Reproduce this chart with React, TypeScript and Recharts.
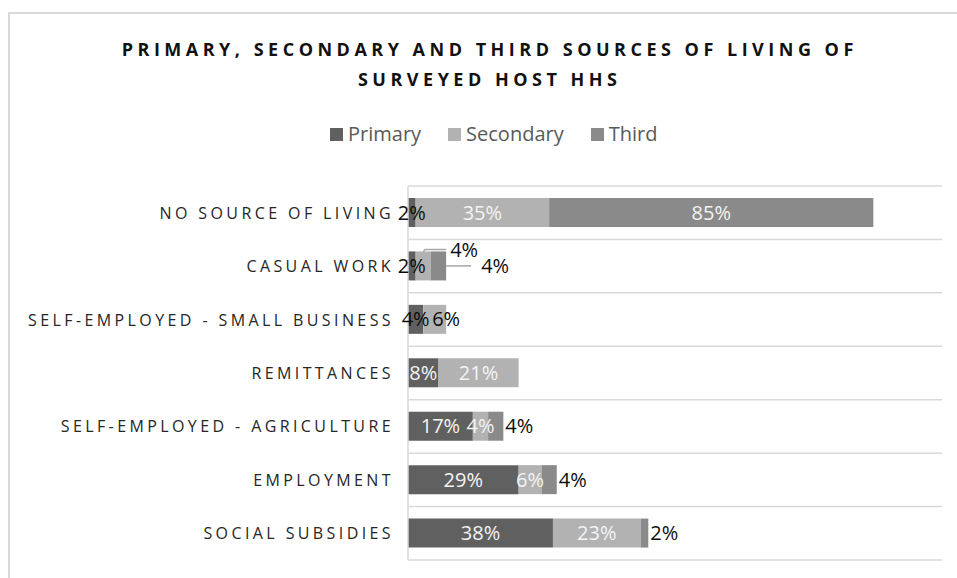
import React from 'react';
import { BarChart, Bar, XAxis, YAxis, CartesianGrid, LabelList } from 'recharts';

const categories = [
  'NO SOURCE OF LIVING',
  'CASUAL WORK',
  'SELF-EMPLOYED - SMALL BUSINESS',
  'REMITTANCES',
  'SELF-EMPLOYED - AGRICULTURE',
  'EMPLOYMENT',
  'SOCIAL SUBSIDIES',
];
const primary = [2, 2, 4, 8, 17, 29, 38];
const secondary = [35, 4, 6, 21, 4, 6, 23];
const third = [85, 4, 0, 0, 4, 4, 2];

const seriesKeys = ['primary', 'secondary', 'third'];
const seriesNames = ['Primary', 'Secondary', 'Third'];
const seriesColors = ['#606060', '#b2b2b2', '#8a8a8a'];
const titleLines = ['PRIMARY, SECONDARY AND THIRD SOURCES OF LIVING OF', 'SURVEYED HOST HHS'];
const axisMax = 140;

const data = categories.map((c, i) => ({
  category: c,
  primary: primary[i],
  secondary: secondary[i],
  third: third[i],
}));

const FONT = '"Open Sans", "DejaVu Sans", sans-serif';
const WHITE = '#f4f4f4';
const DARK = '#0d0d0d';
const LEADER = '#a6a6a6';
const GRID = '#d9d9d9';
const LABEL_SIZE = 20;

const fmt = (v: number) => `${Math.round(v)}%`;

function box(props: any) {
  const vb = props.viewBox && typeof props.viewBox.x === 'number' ? props.viewBox : props;
  return { x: Number(vb.x), y: Number(vb.y), w: Number(vb.width), h: Number(vb.height) };
}

// Find the data row of a label robustly (zero-width bars may be skipped in the label list)
function rowIndex(props: any): number {
  const p = props.payload;
  if (p && typeof p.category === 'string') return categories.indexOf(p.category);
  if (typeof props.value === 'string' && categories.indexOf(props.value) >= 0)
    return categories.indexOf(props.value);
  return props.index;
}

const categoryAccessor = (entry: any) =>
  entry && entry.payload && entry.payload.category ? entry.payload.category : entry && entry.category;

function Txt(p: { x: number; y: number; anchor: string; fill: string; children: any }) {
  return (
    <text
      x={p.x}
      y={p.y}
      textAnchor={p.anchor as any}
      fill={p.fill}
      fontSize={LABEL_SIZE}
      fontFamily={FONT}
    >
      {p.children}
    </text>
  );
}

const PrimaryLabel = (props: any) => {
  const i = rowIndex(props);
  const v = primary[i];
  if (!v) return null;
  const { x, y, w, h } = box(props);
  const cy = y + h / 2;
  return (
    <Txt x={x + w / 2} y={cy + 7} anchor="middle" fill={v >= 8 ? WHITE : DARK}>
      {fmt(v)}
    </Txt>
  );
};

const SecondaryLabel = (props: any) => {
  const i = rowIndex(props);
  const v = secondary[i];
  if (!v) return null;
  const { x, y, w, h } = box(props);
  const cy = y + h / 2;
  const p = primary[i];
  const t = third[i];
  if (v >= 10 || p >= 8) {
    return (
      <Txt x={x + w / 2} y={cy + 7} anchor="middle" fill={WHITE}>
        {fmt(v)}
      </Txt>
    );
  }
  if (t > 0) {
    const k = w / v;
    const end = x + w + t * k;
    const ly = y - 2;
    return (
      <g>
        <path
          d={`M${x + w / 2},${y} L${x + w / 2 + 2},${ly} L${end},${ly}`}
          stroke={LEADER}
          strokeWidth={1.5}
          fill="none"
        />
        <Txt x={end + 4} y={cy - 9} anchor="start" fill={DARK}>
          {fmt(v)}
        </Txt>
      </g>
    );
  }
  return (
    <Txt x={x + w} y={cy + 7} anchor="middle" fill={DARK}>
      {fmt(v)}
    </Txt>
  );
};

const ThirdLabel = (props: any) => {
  const i = rowIndex(props);
  const v = third[i];
  if (!v) return null;
  const { x, y, w, h } = box(props);
  const cy = y + h / 2;
  if (v >= 20) {
    return (
      <Txt x={x + w / 2} y={cy + 7} anchor="middle" fill={WHITE}>
        {fmt(v)}
      </Txt>
    );
  }
  const lifted = secondary[i] > 0 && secondary[i] < 10 && primary[i] < 8;
  if (lifted) {
    const end = x + w;
    return (
      <g>
        <line x1={end} y1={cy} x2={end + 25} y2={cy} stroke={LEADER} strokeWidth={1.5} />
        <Txt x={end + 35} y={cy + 7} anchor="start" fill={DARK}>
          {fmt(v)}
        </Txt>
      </g>
    );
  }
  return (
    <Txt x={x + w + 2} y={cy + 7} anchor="start" fill={DARK}>
      {fmt(v)}
    </Txt>
  );
};

const labelRenderers = [PrimaryLabel, SecondaryLabel, ThirdLabel];

const CategoryTick = (props: any) => {
  const { x, y, payload } = props;
  return (
    <text
      x={x - 14}
      y={y + 6}
      textAnchor="end"
      fontSize={16}
      letterSpacing={3.4}
      fill="#262626"
      fontFamily={FONT}
    >
      {payload.value}
    </text>
  );
};

const gridGenerator = (args: any) => {
  const off = args && args.offset ? args.offset : { top: 186, height: 374 };
  const n = categories.length;
  const pts: number[] = [];
  for (let i = 0; i <= n; i++) pts.push(off.top + (i * off.height) / n);
  return pts;
};

export default function App() {
  return (
    <div
      style={{
        position: 'absolute',
        left: 0,
        top: 0,
        width: 957,
        height: 578,
        overflow: 'hidden',
        background: '#ffffff',
        fontFamily: FONT,
      }}
    >
      <div
        style={{
          position: 'absolute',
          left: 8,
          top: 12,
          width: 1200,
          height: 1200,
          borderLeft: `2px solid ${GRID}`,
          borderTop: `2px solid ${GRID}`,
        }}
      />
      {titleLines.map((t, i) => (
        <div
          key={i}
          style={{
            position: 'absolute',
            left: 9,
            top: 34 + i * 30,
            width: 957,
            paddingLeft: 4.5,
            boxSizing: 'border-box',
            textAlign: 'center',
            fontSize: 18,
            lineHeight: '30px',
            fontWeight: 700,
            letterSpacing: 4.5,
            color: '#111111',
            whiteSpace: 'nowrap',
          }}
        >
          {t}
        </div>
      ))}
      <div
        style={{
          position: 'absolute',
          left: 330,
          top: 124,
          height: 20,
          display: 'flex',
          alignItems: 'center',
          whiteSpace: 'nowrap',
        }}
      >
        {seriesNames.map((n, i) => (
          <div key={n} style={{ display: 'flex', alignItems: 'center', marginRight: 27 }}>
            <div style={{ width: 13, height: 13, background: seriesColors[i], marginRight: 5 }} />
            <span style={{ fontSize: 20, lineHeight: '20px', color: '#595959' }}>{n}</span>
          </div>
        ))}
      </div>
      <div style={{ position: 'absolute', left: 0, top: 0 }}>
        <BarChart
          width={957}
          height={578}
          data={data}
          layout="vertical"
          margin={{ top: 186, right: 15, bottom: 18, left: 0 }}
        >
          <CartesianGrid
            vertical={false}
            horizontal={true}
            stroke={GRID}
            strokeWidth={1.5}
            horizontalCoordinatesGenerator={gridGenerator}
          />
          <XAxis type="number" domain={[0, axisMax]} hide />
          <YAxis
            type="category"
            dataKey="category"
            width={408}
            tickSize={0}
            tickMargin={0}
            tickLine={false}
            interval={0}
            axisLine={{ stroke: GRID, strokeWidth: 1.5 }}
            tick={CategoryTick}
          />
          {seriesKeys.map((k, i) => (
            <Bar
              key={k}
              dataKey={k}
              name={seriesNames[i]}
              stackId="s"
              fill={seriesColors[i]}
              barSize={29}
              isAnimationActive={false}
            >
              <LabelList valueAccessor={categoryAccessor} content={labelRenderers[i]} />
            </Bar>
          ))}
        </BarChart>
      </div>
    </div>
  );
}
